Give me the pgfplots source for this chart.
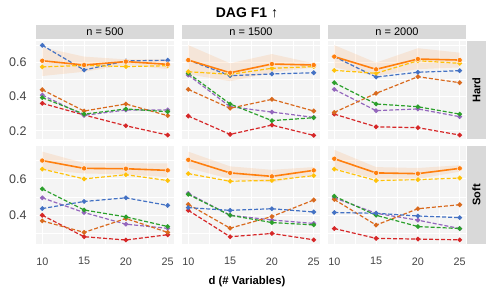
\documentclass[border=0pt]{standalone}
\usepackage{pgfplots}
\pgfplotsset{compat=1.18}
\usepackage{pgfplotstable}
\usepackage{fontspec}
\setmainfont{Liberation Sans}
\definecolor{panelbg}{HTML}{F4F4F4}
\definecolor{stripbg}{HTML}{D9D9D9}
\definecolor{ticktext}{HTML}{444444}
\definecolor{cOr}{HTML}{FF7F0E}
\definecolor{cYe}{HTML}{FFC20A}
\definecolor{cBl}{HTML}{4472C4}
\definecolor{cGr}{HTML}{2CA02C}
\definecolor{cDo}{HTML}{D96A1E}
\definecolor{cPu}{HTML}{9467BD}
\definecolor{cRe}{HTML}{D62728}

\pgfplotstableread{
x orange yellow blue green dor purple red
10 0.609 0.573 0.699 0.394 0.440 0.409 0.361
15 0.584 0.582 0.555 0.298 0.316 0.291 0.293
20 0.604 0.575 0.608 0.328 0.357 0.322 0.230
25 0.588 0.580 0.612 0.312 0.289 0.322 0.176
}\HardA
\pgfplotstableread{
x y
10 0.687
15 0.633
20 0.617
25 0.617
25 0.560
20 0.585
15 0.545
10 0.520
}\HardAband
\pgfplotstableread{
x orange yellow blue green dor purple red
10 0.613 0.545 0.613 0.536 0.442 0.526 0.287
15 0.539 0.530 0.522 0.357 0.332 0.341 0.180
20 0.590 0.565 0.532 0.260 0.384 0.310 0.234
25 0.584 0.575 0.539 0.277 0.316 0.279 0.174
}\HardB
\pgfplotstableread{
x y
10 0.700
15 0.594
20 0.648
25 0.594
25 0.570
20 0.540
15 0.490
10 0.530
}\HardBband
\pgfplotstableread{
x orange yellow blue green dor purple red
10 0.633 0.553 0.633 0.481 0.308 0.442 0.298
15 0.559 0.536 0.514 0.357 0.419 0.318 0.224
20 0.619 0.609 0.542 0.341 0.516 0.328 0.219
25 0.613 0.594 0.551 0.298 0.481 0.283 0.176
}\HardC
\pgfplotstableread{
x y
10 0.700
15 0.598
20 0.682
25 0.656
25 0.570
20 0.560
15 0.520
10 0.570
}\HardCband
\pgfplotstableread{
x orange yellow blue green dor purple red
10 0.701 0.654 0.437 0.545 0.369 0.496 0.400
15 0.658 0.600 0.476 0.429 0.306 0.415 0.282
20 0.656 0.623 0.496 0.391 0.382 0.351 0.264
25 0.647 0.591 0.454 0.338 0.306 0.328 0.293
}\SoftA
\pgfplotstableread{
x y
10 0.750
15 0.687
20 0.687
25 0.685
25 0.610
20 0.625
15 0.630
10 0.650
}\SoftAband
\pgfplotstableread{
x orange yellow blue green dor purple red
10 0.705 0.629 0.442 0.515 0.460 0.520 0.427
15 0.633 0.587 0.427 0.400 0.329 0.400 0.282
20 0.614 0.592 0.436 0.360 0.393 0.374 0.300
25 0.647 0.618 0.418 0.347 0.484 0.355 0.265
}\SoftB
\pgfplotstableread{
x y
10 0.750
15 0.669
20 0.650
25 0.665
25 0.625
20 0.580
15 0.600
10 0.660
}\SoftBband
\pgfplotstableread{
x orange yellow blue green dor purple red
10 0.711 0.654 0.415 0.505 0.487 0.496 0.327
15 0.633 0.591 0.411 0.400 0.346 0.411 0.273
20 0.629 0.596 0.396 0.338 0.436 0.373 0.269
25 0.658 0.605 0.387 0.327 0.458 0.327 0.265
}\SoftC
\pgfplotstableread{
x y
10 0.760
15 0.665
20 0.660
25 0.675
25 0.640
20 0.600
15 0.600
10 0.660
}\SoftCband

\pgfplotsset{
  panel/.style={
    scale only axis, width=138bp, height=98bp, anchor=north west,
    xmin=9.25, xmax=25.75, xtick={10,15,20,25}, minor xtick={12.5,17.5,22.5},
    grid=both, major grid style={white, line width=1bp}, minor grid style={white, line width=0.5bp},
    axis line style={draw=none}, major tick length=0pt, minor tick length=0pt,
    axis background/.style={fill=panelbg},
    /pgf/number format/assume math mode=true,
    yticklabel={\pgfmathprintnumber[fixed, fixed zerofill, precision=1]{\tick}},
    xticklabel style={font=\fontsize{10.8bp}{12bp}\selectfont, text=ticktext, yshift=-10bp},
    yticklabel style={font=\fontsize{12.5bp}{14bp}\selectfont, text=ticktext, xshift=-6bp},
  },
  toprow/.style={panel, ymin=0.153, ymax=0.724, ytick={0.2,0.4,0.6}, minor ytick={0.3,0.5,0.7}, xticklabels={}},
  botrow/.style={panel, ymin=0.242, ymax=0.781, ytick={0.4,0.6}, minor ytick={0.3,0.5,0.7}, xticklabels={10,15,20,25}},
  noy/.style={yticklabels={}},
  dash/.style={line width=1.2bp, dash pattern=on 4bp off 2bp, mark=*, mark size=1.7bp, mark options={solid, draw=none}},
}

\newcommand{\panelplots}[2]{%
  \addplot[fill=cOr, fill opacity=0.12, draw=none] table[x=x, y=y] {#2} -- cycle;
  \addplot[dash, cRe] table[x=x, y=red] {#1};
  \addplot[dash, cPu] table[x=x, y=purple] {#1};
  \addplot[dash, cDo] table[x=x, y=dor] {#1};
  \addplot[dash, cGr] table[x=x, y=green] {#1};
  \addplot[dash, cBl] table[x=x, y=blue] {#1};
  \addplot[dash, cYe] table[x=x, y=yellow] {#1};
  \addplot[cOr, line width=1.6bp, mark=*, mark size=2.6bp, mark options={draw=white, line width=0.4bp}] table[x=x, y=orange] {#1};
}

\begin{document}
\begin{tikzpicture}
\path[use as bounding box] (0bp,0bp) rectangle (494bp,-293bp);

% strips
\fill[stripbg] (36bp,-24.5bp) rectangle (174bp,-39bp);
\fill[stripbg] (182bp,-24.5bp) rectangle (320bp,-39bp);
\fill[stripbg] (328bp,-24.5bp) rectangle (466bp,-39bp);
\fill[stripbg] (467bp,-41bp) rectangle (486bp,-139bp);
\fill[stripbg] (467bp,-146bp) rectangle (486bp,-244bp);
\node[font=\fontsize{11bp}{13bp}\selectfont] at (105bp,-31.8bp) {n = 500};
\node[font=\fontsize{11bp}{13bp}\selectfont] at (251bp,-31.8bp) {n = 1500};
\node[font=\fontsize{11bp}{13bp}\selectfont] at (397bp,-31.8bp) {n = 2000};
\node[font=\bfseries\fontsize{11bp}{13bp}\selectfont, rotate=90] at (476.5bp,-90bp) {Hard};
\node[font=\bfseries\fontsize{11bp}{13bp}\selectfont, rotate=90] at (476.5bp,-195bp) {Soft};
\node[font=\bfseries\fontsize{14bp}{16bp}\selectfont] at (247bp,-12.8bp) {DAG F1 ↑};
\node[font=\bfseries\fontsize{11.3bp}{13bp}\selectfont] at (247bp,-281.5bp) {d (\# Variables)};

\begin{axis}[toprow, at={(36bp,-41bp)}]
\panelplots{\HardA}{\HardAband}
\end{axis}
\begin{axis}[toprow, noy, at={(182bp,-41bp)}]
\panelplots{\HardB}{\HardBband}
\end{axis}
\begin{axis}[toprow, noy, at={(328bp,-41bp)}]
\panelplots{\HardC}{\HardCband}
\end{axis}
\begin{axis}[botrow, at={(36bp,-146bp)}]
\panelplots{\SoftA}{\SoftAband}
\end{axis}
\begin{axis}[botrow, noy, at={(182bp,-146bp)}]
\panelplots{\SoftB}{\SoftBband}
\end{axis}
\begin{axis}[botrow, noy, at={(328bp,-146bp)}]
\panelplots{\SoftC}{\SoftCband}
\end{axis}
\end{tikzpicture}
\end{document}
